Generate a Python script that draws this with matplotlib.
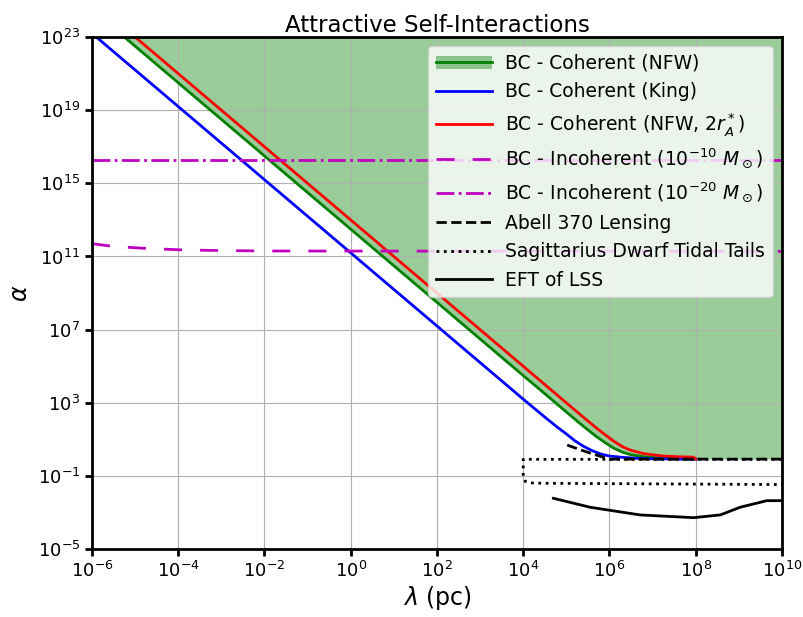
import numpy as np
import matplotlib
matplotlib.use("Agg")
import matplotlib.pyplot as plt

# log10 values
blue_loglam = [-5.9, 4.0, 4.5, 4.8, 5.0, 5.2, 5.4, 5.6, 5.8, 6.0, 6.3, 6.6, 7.0, 8.0]
blue_logal = [23.0, 3.2, 2.22, 1.65, 1.3, 0.92, 0.62, 0.38, 0.2, 0.09, 0.02, -0.03, -0.06, -0.08]

green_loglam = [-5.25, 4.0, 4.5, 5.0, 5.3, 5.5, 5.7, 5.9, 6.1, 6.3, 6.5, 6.8, 7.2, 7.6, 8.0]
green_logal = [23.0, 4.49, 3.5, 2.5, 1.9, 1.52, 1.15, 0.82, 0.52, 0.3, 0.16, 0.05, -0.02, -0.06, -0.08]

red_loglam = [-5.0, 4.0, 5.0, 5.4, 5.7, 5.9, 6.1, 6.3, 6.5, 6.8, 7.2, 7.6, 7.95, 8.0]
red_logal = [23.0, 5.0, 3.0, 2.2, 1.62, 1.25, 0.9, 0.6, 0.4, 0.22, 0.1, 0.05, 0.03, -0.08]

plateau_logal = -0.08
xmax_log = 10.0

inc10_loglam = [-6.0, -5.5, -4.8, -3.8, -2.0, 10.0]
inc10_logal = [11.7, 11.55, 11.45, 11.35, 11.3, 11.28]

inc20_loglam = [-6.0, 10.0]
inc20_logal = [16.27, 16.27]

abell_loglam = [5.02, 5.3, 5.62, 6.0, 10.0]
abell_logal = [0.69, 0.45, 0.2, -0.08, -0.08]

sag_loglam = [10.0, 4.0, 4.0, 4.05, 4.2, 4.5, 10.0]
sag_logal = [-0.09, -0.09, -1.0, -1.3, -1.38, -1.4, -1.47]

eft_loglam = [4.70, 5.55, 6.71, 7.95, 8.57, 9.03, 9.65, 9.97, 10.0]
eft_logal = [-2.22, -2.71, -3.13, -3.28, -3.13, -2.71, -2.35, -2.35, -2.35]

def p(v):
    return 10.0 ** np.asarray(v)

fig = plt.figure(figsize=(8.04, 6.17), dpi=100)
ax = fig.add_axes([0.1144, 0.110, 0.8582, 0.830])

# green excluded region
fx = np.concatenate([p(green_loglam), [10 ** xmax_log]])
fy = np.concatenate([p(green_logal), [10 ** plateau_logal]])
fill = ax.fill_between(fx, fy, 1e23, color="green", alpha=0.4, lw=0)
gline, = ax.plot(p(green_loglam), p(green_logal), color="green", lw=2)
bline, = ax.plot(p(blue_loglam), p(blue_logal), color="blue", lw=2)
rline, = ax.plot(p(red_loglam), p(red_logal), color="red", lw=2)
m10, = ax.plot(p(inc10_loglam), p(inc10_logal), color="m", lw=2, dashes=(6.5, 6.5))
m20, = ax.plot(p(inc20_loglam), p(inc20_logal), color="m", lw=2, ls="-.")
ab, = ax.plot(p(abell_loglam), p(abell_logal), color="black", lw=2, ls="--")
sg, = ax.plot(p(sag_loglam), p(sag_logal), color="black", lw=2, ls=":")
ef, = ax.plot(p(eft_loglam), p(eft_logal), color="black", lw=2, ls="-")

ax.set_xscale("log")
ax.set_yscale("log")
ax.set_xlim(1e-6, 1e10)
ax.set_ylim(1e-5, 1e23)
ax.set_xticks([10.0 ** k for k in range(-6, 11, 2)])
ax.set_yticks([10.0 ** k for k in range(-5, 24, 4)])
ax.minorticks_off()
ax.grid(True, color="#b0b0b0", lw=0.8)
for s in ax.spines.values():
    s.set_linewidth(2)
ax.tick_params(labelsize=13, width=2, length=5)

ax.set_xlabel(r"$\lambda$ (pc)", fontsize=17, labelpad=2)
ax.set_ylabel(r"$\alpha$", fontsize=17)
ax.set_title("Attractive Self-Interactions", fontsize=16.5, pad=3)

handles = [(fill, gline), bline, rline, m10, m20, ab, sg, ef]
labels = ["BC - Coherent (NFW)", "BC - Coherent (King)",
          r"BC - Coherent (NFW, $2r_A^*$)",
          r"BC - Incoherent ($10^{-10}\ M_\odot$)",
          r"BC - Incoherent ($10^{-20}\ M_\odot$)",
          "Abell 370 Lensing", "Sagittarius Dwarf Tidal Tails", "EFT of LSS"]
ax.legend(handles, labels, loc="upper right", fontsize=13.5, framealpha=0.8,
          handlelength=3.0, handletextpad=0.7, labelspacing=0.5)

fig.savefig("out.png", dpi=100)
